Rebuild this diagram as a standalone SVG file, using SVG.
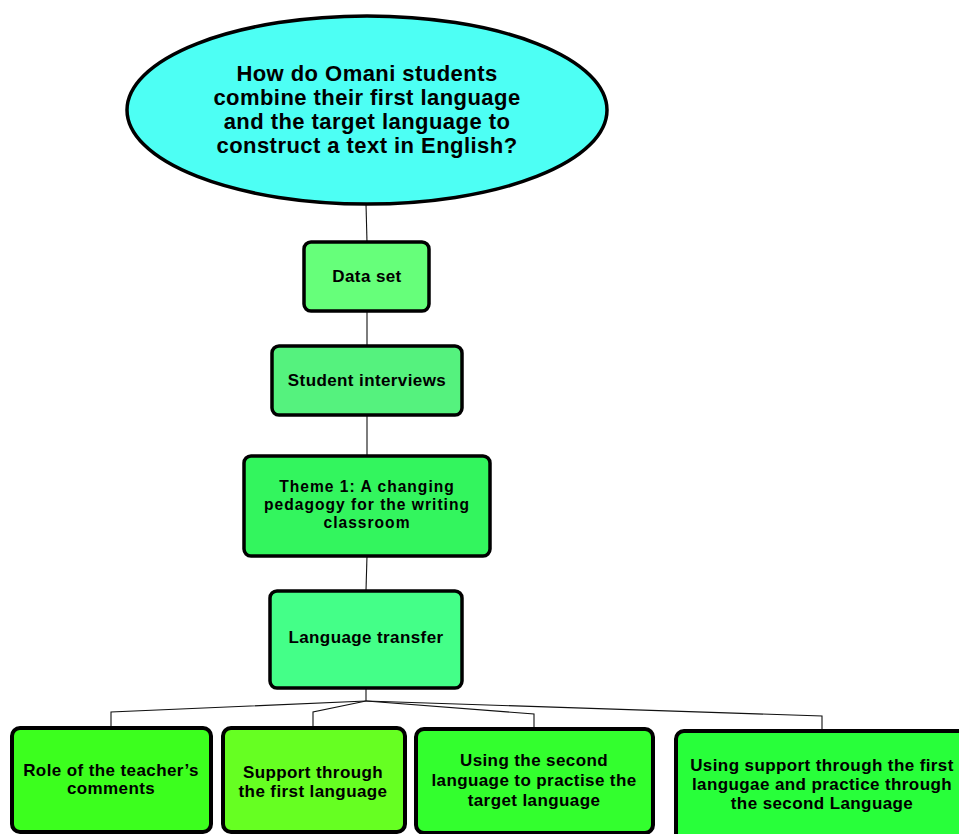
<svg xmlns="http://www.w3.org/2000/svg" width="959" height="834" viewBox="0 0 959 834">
  <style>
    .box { stroke: #000; stroke-width: 3.5; }
    .leaf { stroke: #000; stroke-width: 4; }
    .lbl { font-family: "Liberation Sans", Arial, sans-serif; font-weight: bold; font-size: 17px; letter-spacing: 0.4px; fill: #000; text-anchor: middle; }
    .lbl-q { font-size: 22px; letter-spacing: 0.45px; }
    .lbl-tight { font-size: 15.6px; letter-spacing: 1px; }
    .wire { fill: none; stroke: #111; stroke-width: 1.1; }
  </style>
  <rect width="959" height="834" fill="#fff"/>

  <g id="connectors">
    <path class="wire" d="M366 204 L367 242"/>
    <path class="wire" d="M367 311 L367 346"/>
    <path class="wire" d="M367 415 L367 455"/>
    <path class="wire" d="M367 556 L366 590"/>
    <path class="wire" d="M366 688 L366 701"/>
    <path class="wire" d="M366 701 L111 712 L111 727"/>
    <path class="wire" d="M366 701 L313 712 L313 727"/>
    <path class="wire" d="M366 701 L534 714 L534 728"/>
    <path class="wire" d="M366 701 L822 716 L822 731"/>
  </g>

  <g id="question">
    <ellipse cx="367" cy="110" rx="240" ry="94" fill="#4dfff4" stroke="#000" stroke-width="3.5"/>
    <text class="lbl lbl-q" x="367" y="81">How do Omani students</text>
    <text class="lbl lbl-q" x="367" y="105">combine their first language</text>
    <text class="lbl lbl-q" x="367" y="129">and the target language to</text>
    <text class="lbl lbl-q" x="367" y="153">construct a text in English?</text>
  </g>

  <g id="data-set">
    <rect class="box" x="304" y="242" width="125" height="69" rx="7" fill="#66ff7a"/>
    <text class="lbl" x="367" y="282">Data set</text>
  </g>

  <g id="student-interviews">
    <rect class="box" x="272" y="346" width="190" height="69" rx="7" fill="#55f27e"/>
    <text class="lbl" x="367" y="386">Student interviews</text>
  </g>

  <g id="theme-1">
    <rect class="box" x="244" y="456" width="246" height="100" rx="7" fill="#33f55e"/>
    <text class="lbl lbl-tight" x="367" y="492">Theme 1: A changing</text>
    <text class="lbl lbl-tight" x="367" y="510">pedagogy for the writing</text>
    <text class="lbl lbl-tight" x="367" y="528">classroom</text>
  </g>

  <g id="language-transfer">
    <rect class="box" x="270" y="591" width="192" height="97" rx="7" fill="#44ff88"/>
    <text class="lbl" x="366" y="643">Language transfer</text>
  </g>

  <g id="teacher-comments">
    <rect class="leaf" x="12" y="728" width="199" height="104" rx="8" fill="#3cff1e"/>
    <text class="lbl" x="111" y="776">Role of the teacher’s</text>
    <text class="lbl" x="111" y="794">comments</text>
  </g>

  <g id="first-language-support">
    <rect class="leaf" x="223" y="728" width="182" height="104" rx="8" fill="#66ff22"/>
    <text class="lbl" x="313" y="778">Support through</text>
    <text class="lbl" x="313" y="797">the first language</text>
  </g>

  <g id="second-language-practice">
    <rect class="leaf" x="416" y="729" width="237" height="104" rx="8" fill="#33ff2e"/>
    <text class="lbl" x="534" y="766">Using the second</text>
    <text class="lbl" x="534" y="786">language to practise the</text>
    <text class="lbl" x="534" y="806">target language</text>
  </g>

  <g id="combined-support">
    <rect class="leaf" x="676" y="731" width="290" height="110" rx="8" fill="#28ff3a"/>
    <text class="lbl" x="822" y="771">Using support through the first</text>
    <text class="lbl" x="822" y="790">langugae and practice through</text>
    <text class="lbl" x="822" y="809">the second Language</text>
  </g>
</svg>
